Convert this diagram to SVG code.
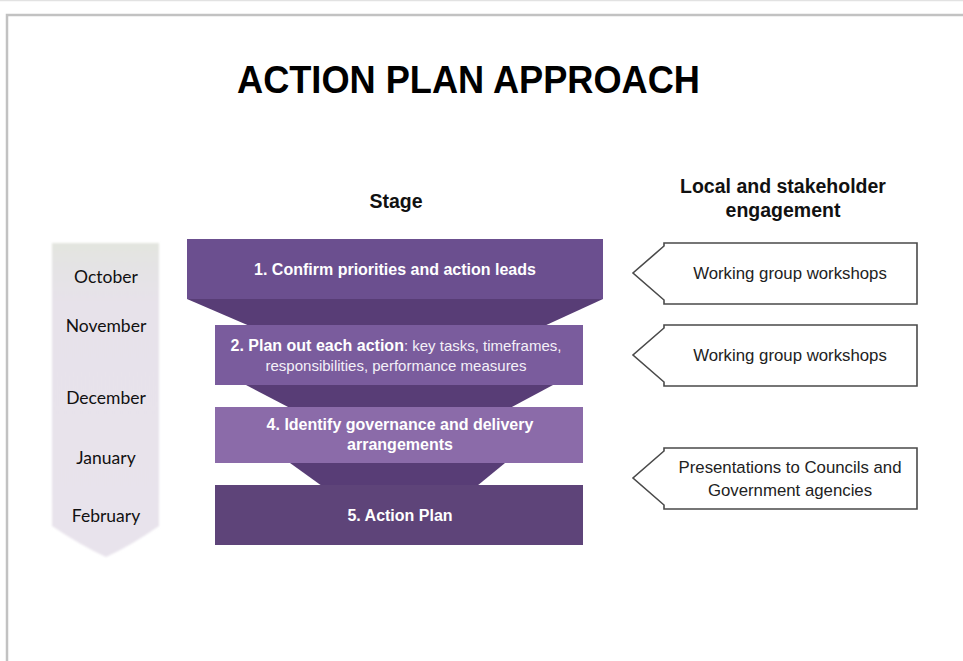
<svg xmlns="http://www.w3.org/2000/svg" width="963" height="661" viewBox="0 0 963 661">
  <defs>
    <linearGradient id="monthFill" x1="0" y1="0" x2="0" y2="1">
      <stop offset="0" stop-color="#e3e5df"/>
      <stop offset="0.07" stop-color="#e4e3e4"/>
      <stop offset="0.2" stop-color="#e7e2ea"/>
      <stop offset="1" stop-color="#e8e3ec"/>
    </linearGradient>
    <filter id="soft" x="-10%" y="-10%" width="120%" height="120%">
      <feGaussianBlur stdDeviation="1.2"/>
    </filter>
  </defs>
  <style>
    .title { font-family: "Liberation Sans", Arial, sans-serif; font-weight: bold; font-size: 39px; fill: #000; }
    .head { font-family: "Liberation Sans", Arial, sans-serif; font-weight: bold; font-size: 19.5px; fill: #111; }
    .month { font-family: Lato, "Open Sans", sans-serif; font-size: 17.5px; fill: #111; }
    .stage { font-family: "Liberation Sans", Arial, sans-serif; font-size: 15px; fill: #f4f0f8; }
    .bold { font-weight: bold; font-size: 16px; fill: #fff; }
    .callout { fill: #fff; stroke: #4a4a4a; stroke-width: 1.6; }
    .ctext { font-family: "Liberation Sans", Arial, sans-serif; font-size: 16.8px; fill: #222; }
    .neck { fill: #583d76; }
  </style>

  <!-- page frame -->
  <rect x="0" y="0" width="963" height="661" fill="#fff"/>
  <line x1="0" y1="0.5" x2="963" y2="0.5" stroke="#e2e2e2" stroke-width="1.5"/>
  <path d="M7,670 L7,15 L970,15" fill="none" stroke="#c2c2c2" stroke-width="2.5"/>

  <!-- heading -->
  <text class="title" x="237" y="93" textLength="463" lengthAdjust="spacingAndGlyphs">ACTION PLAN APPROACH</text>
  <text class="head" x="396" y="208" text-anchor="middle">Stage</text>
  <text class="head" x="783" y="193" text-anchor="middle">Local and stakeholder</text>
  <text class="head" x="783" y="217" text-anchor="middle">engagement</text>

  <!-- timeline arrow -->
  <g id="timeline">
    <path d="M52,243 L159,243 L159,526 Q132,545 106,557 Q80,545 52,526 Z" fill="url(#monthFill)" filter="url(#soft)"/>
    <text class="month" x="106" y="283" text-anchor="middle">October</text>
    <text class="month" x="106" y="332" text-anchor="middle">November</text>
    <text class="month" x="106" y="404" text-anchor="middle">December</text>
    <text class="month" x="106" y="464" text-anchor="middle">January</text>
    <text class="month" x="106" y="522" text-anchor="middle">February</text>
  </g>

  <!-- funnel necks between stages -->
  <g id="connectors">
    <polygon class="neck" points="187,299 603,299 542,327 252,327"/>
    <polygon class="neck" points="246,385 553,385 510,408 290,408"/>
    <polygon class="neck" points="290,463 505,463 477,486 322,486"/>
  </g>

  <!-- stages -->
  <g id="stage1">
    <rect x="187" y="239" width="416" height="60" fill="#6b4f8f"/>
    <text class="stage bold" x="395" y="275" text-anchor="middle">1. Confirm priorities and action leads</text>
  </g>
  <g id="stage2">
    <rect x="215" y="325" width="368" height="60" fill="#7a5c9d"/>
    <text class="stage" x="396" y="351" text-anchor="middle"><tspan class="bold">2. Plan out each action</tspan>: key tasks, timeframes,</text>
    <text class="stage" x="396" y="371" text-anchor="middle">responsibilities, performance measures</text>
  </g>
  <g id="stage4">
    <rect x="215" y="407" width="368" height="56" fill="#8b6ba9"/>
    <text class="stage bold" x="400" y="430" text-anchor="middle">4. Identify governance and delivery</text>
    <text class="stage bold" x="400" y="450" text-anchor="middle">arrangements</text>
  </g>
  <g id="stage5">
    <rect x="215" y="485" width="368" height="60" fill="#5e4479"/>
    <text class="stage bold" x="400" y="521" text-anchor="middle">5. Action Plan</text>
  </g>

  <!-- engagement callouts -->
  <g id="engage1">
    <path class="callout" d="M664,243 L917,243 L917,304 L664,304 L664,300 L633,273 L664,246 Z"/>
    <text class="ctext" x="790" y="279" text-anchor="middle">Working group workshops</text>
  </g>
  <g id="engage2">
    <path class="callout" d="M664,325 L917,325 L917,386 L664,386 L664,382 L633,355 L664,328 Z"/>
    <text class="ctext" x="790" y="361" text-anchor="middle">Working group workshops</text>
  </g>
  <g id="engage3">
    <path class="callout" d="M664,448 L917,448 L917,509 L664,509 L664,505 L633,478 L664,451 Z"/>
    <text class="ctext" x="790" y="473" text-anchor="middle">Presentations to Councils and</text>
    <text class="ctext" x="790" y="496" text-anchor="middle">Government agencies</text>
  </g>
</svg>
